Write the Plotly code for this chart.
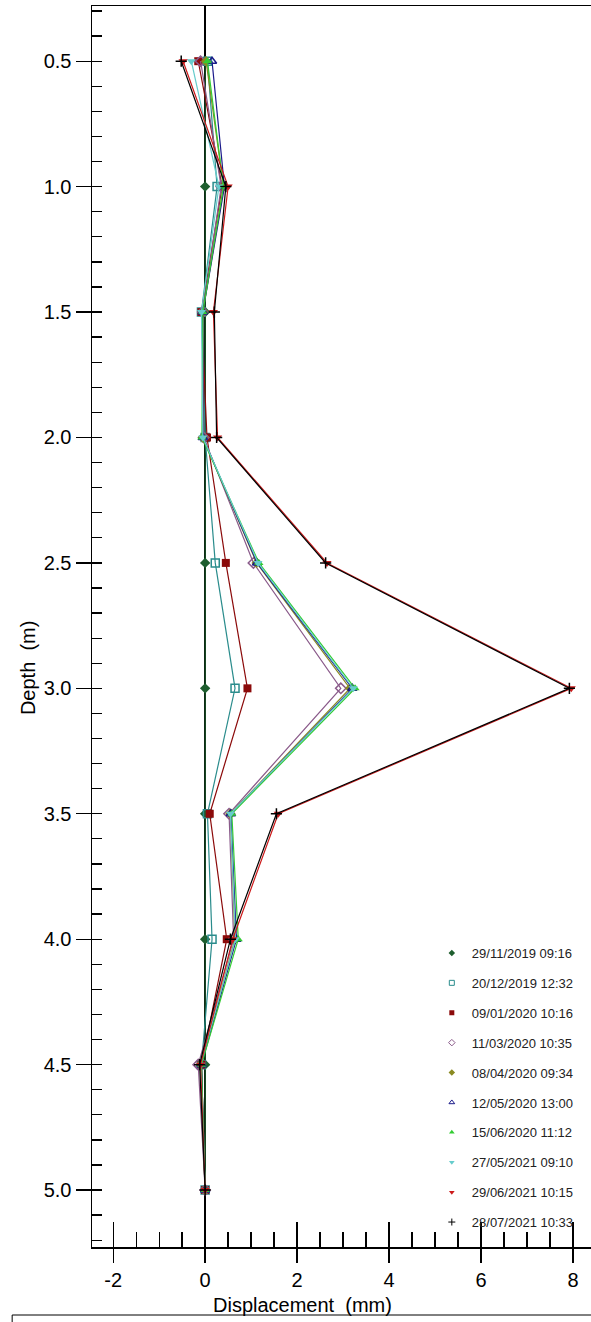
import plotly.graph_objects as go

depths = [0.5, 1.0, 1.5, 2.0, 2.5, 3.0, 3.5, 4.0, 4.5, 5.0]

labels = [
    "29/11/2019 09:16", "20/12/2019 12:32", "09/01/2020 10:16", "11/03/2020 10:35",
    "08/04/2020 09:34", "12/05/2020 13:00", "15/06/2020 11:12", "27/05/2021 09:10",
    "29/06/2021 10:15", "28/07/2021 10:33",
]

s_20191129 = [0.0, 0.0, 0.0, 0.0, 0.0, 0.0, 0.0, 0.0, 0.0, 0.0]
s_20191220 = [0.05, 0.26, -0.08, 0.0, 0.22, 0.65, 0.05, 0.15, -0.08, 0.0]
s_20200109 = [-0.15, 0.37, -0.08, 0.04, 0.45, 0.92, 0.10, 0.47, -0.08, 0.0]
s_20200311 = [-0.10, 0.35, -0.05, -0.03, 1.05, 2.95, 0.52, 0.62, -0.15, 0.0]
s_20200408 = [0.02, 0.40, -0.05, -0.05, 1.12, 3.15, 0.55, 0.65, -0.10, 0.0]
s_20200512 = [0.15, 0.42, -0.05, -0.05, 1.13, 3.20, 0.56, 0.68, -0.08, 0.0]
s_20200615 = [0.05, 0.40, -0.05, -0.07, 1.17, 3.26, 0.58, 0.72, -0.08, 0.0]
s_20210527 = [-0.30, 0.30, -0.08, -0.05, 1.15, 3.22, 0.55, 0.66, -0.10, 0.0]
s_20210629 = [-0.48, 0.50, 0.18, 0.27, 2.65, 7.96, 1.59, 0.60, -0.10, 0.0]
s_20210728 = [-0.52, 0.45, 0.20, 0.25, 2.62, 7.92, 1.55, 0.55, -0.12, 0.0]

series = [s_20191129, s_20191220, s_20200109, s_20200311, s_20200408,
          s_20200512, s_20200615, s_20210527, s_20210629, s_20210728]

x_tickvals = [-2, 0, 2, 4, 6, 8]
x_ticktext = ["-2", "0", "2", "4", "6", "8"]

colors = ["#1e5e2e", "#2a8c8c", "#8b0a0a", "#8a5a8a", "#8a8a22",
          "#1a1a8a", "#33cc33", "#66cccc", "#cc1a1a", "#000000"]
symbols = ["diamond", "square-open", "square", "diamond-open", "diamond",
           "triangle-up-open", "triangle-up", "triangle-down", "triangle-down", "cross-thin"]

FONT = "Liberation Sans, Arial, sans-serif"


def marker_line(sym, col, w):
    if "open" in sym or sym == "cross-thin":
        return dict(color=col, width=w)
    return dict(width=0)


fig = go.Figure()
for i, (lab, vals) in enumerate(zip(labels, series)):
    fig.add_trace(go.Scatter(
        x=vals, y=depths, mode="lines+markers", name=lab,
        line=dict(color=colors[i], width=1.2),
        marker=dict(symbol=symbols[i], color=colors[i], size=8,
                    line=marker_line(symbols[i], colors[i], 1.5)),
        showlegend=False, legendgroup=lab,
    ))
for i, lab in enumerate(labels):
    fig.add_trace(go.Scatter(
        x=[None], y=[None], mode="markers", name=lab,
        marker=dict(symbol=symbols[i], color=colors[i], size=5,
                    line=marker_line(symbols[i], colors[i], 1)),
        showlegend=True, legendgroup=lab,
    ))

# helper trace for overlay tick axes
fig.add_trace(go.Scatter(x=[None], y=[None], xaxis="x2", yaxis="y2", showlegend=False, hoverinfo="skip"))

xr = [-2.46, 8.39]
yr = [5.227, 0.28]

fig.update_layout(
    width=591, height=1322,
    margin=dict(l=92, r=0, t=6, b=75),
    paper_bgcolor="white", plot_bgcolor="white",
    font=dict(family=FONT, color="black"),
    xaxis=dict(range=xr, showgrid=False, zeroline=True, zerolinecolor="black", zerolinewidth=1.5,
               showline=True, linecolor="black", linewidth=1.5, mirror=True,
               ticks="outside", ticklen=14, tickwidth=1.3, tickcolor="black",
               tickvals=x_tickvals, ticktext=x_ticktext, tickfont=dict(size=20, family=FONT),
               minor=dict(dtick=0.5, tick0=0, ticks="inside", ticklen=15, tickwidth=1.3, tickcolor="black", showgrid=False)),
    yaxis=dict(range=yr, showgrid=False, zeroline=False,
               showline=True, linecolor="black", linewidth=1.5,
               ticks="outside", ticklen=15, tickwidth=1.3, tickcolor="black",
               dtick=0.5, tick0=0, tickformat=".1f", tickfont=dict(size=20, family=FONT),
               minor=dict(dtick=0.1, tick0=0, ticks="inside", ticklen=10, tickwidth=1.3, tickcolor="black", showgrid=False)),
    xaxis2=dict(range=xr, overlaying="x", anchor="y2", side="bottom", showgrid=False, zeroline=False,
                showline=False, ticks="inside", ticklen=25, tickwidth=1.3, tickcolor="black",
                tickvals=x_tickvals, showticklabels=False),
    yaxis2=dict(range=yr, overlaying="y", anchor="x2", side="left", showgrid=False, zeroline=False,
                showline=False, ticks="inside", ticklen=10, tickwidth=1.3, tickcolor="black",
                dtick=0.5, tick0=0, showticklabels=False),
    legend=dict(x=0.681, y=0.249, xanchor="left", yanchor="top", bgcolor="rgba(255,255,255,0)",
                font=dict(size=13, family=FONT, color="#222222"), traceorder="grouped", tracegroupgap=10),
    annotations=[
        dict(text="Displacement  (mm)", xref="paper", yref="paper", x=0.421, y=-0.0465,
             xanchor="center", yanchor="middle", showarrow=False, font=dict(size=20, family=FONT)),
        dict(text="Depth  (m)", xref="paper", yref="paper", x=-0.128, y=0.4666, textangle=-90,
             xanchor="center", yanchor="middle", showarrow=False, font=dict(size=20, family=FONT)),
    ],
    shapes=[
        dict(type="rect", xref="paper", yref="paper", x0=-0.160, x1=1.02, y0=-0.0548, y1=-0.12,
             fillcolor="white", line=dict(color="black", width=1), layer="above"),
    ],
    hovermode=False,
)

fig.write_html("out.html", config={"displayModeBar": False, "staticPlot": True})

# remove the default page margin so the figure sits at the window's top-left corner
with open("out.html", "r", encoding="utf-8") as f:
    html = f.read()
html = html.replace("<head>", "<head><style>html,body{margin:0;padding:0;overflow:hidden;}</style>", 1)
with open("out.html", "w", encoding="utf-8") as f:
    f.write(html)
